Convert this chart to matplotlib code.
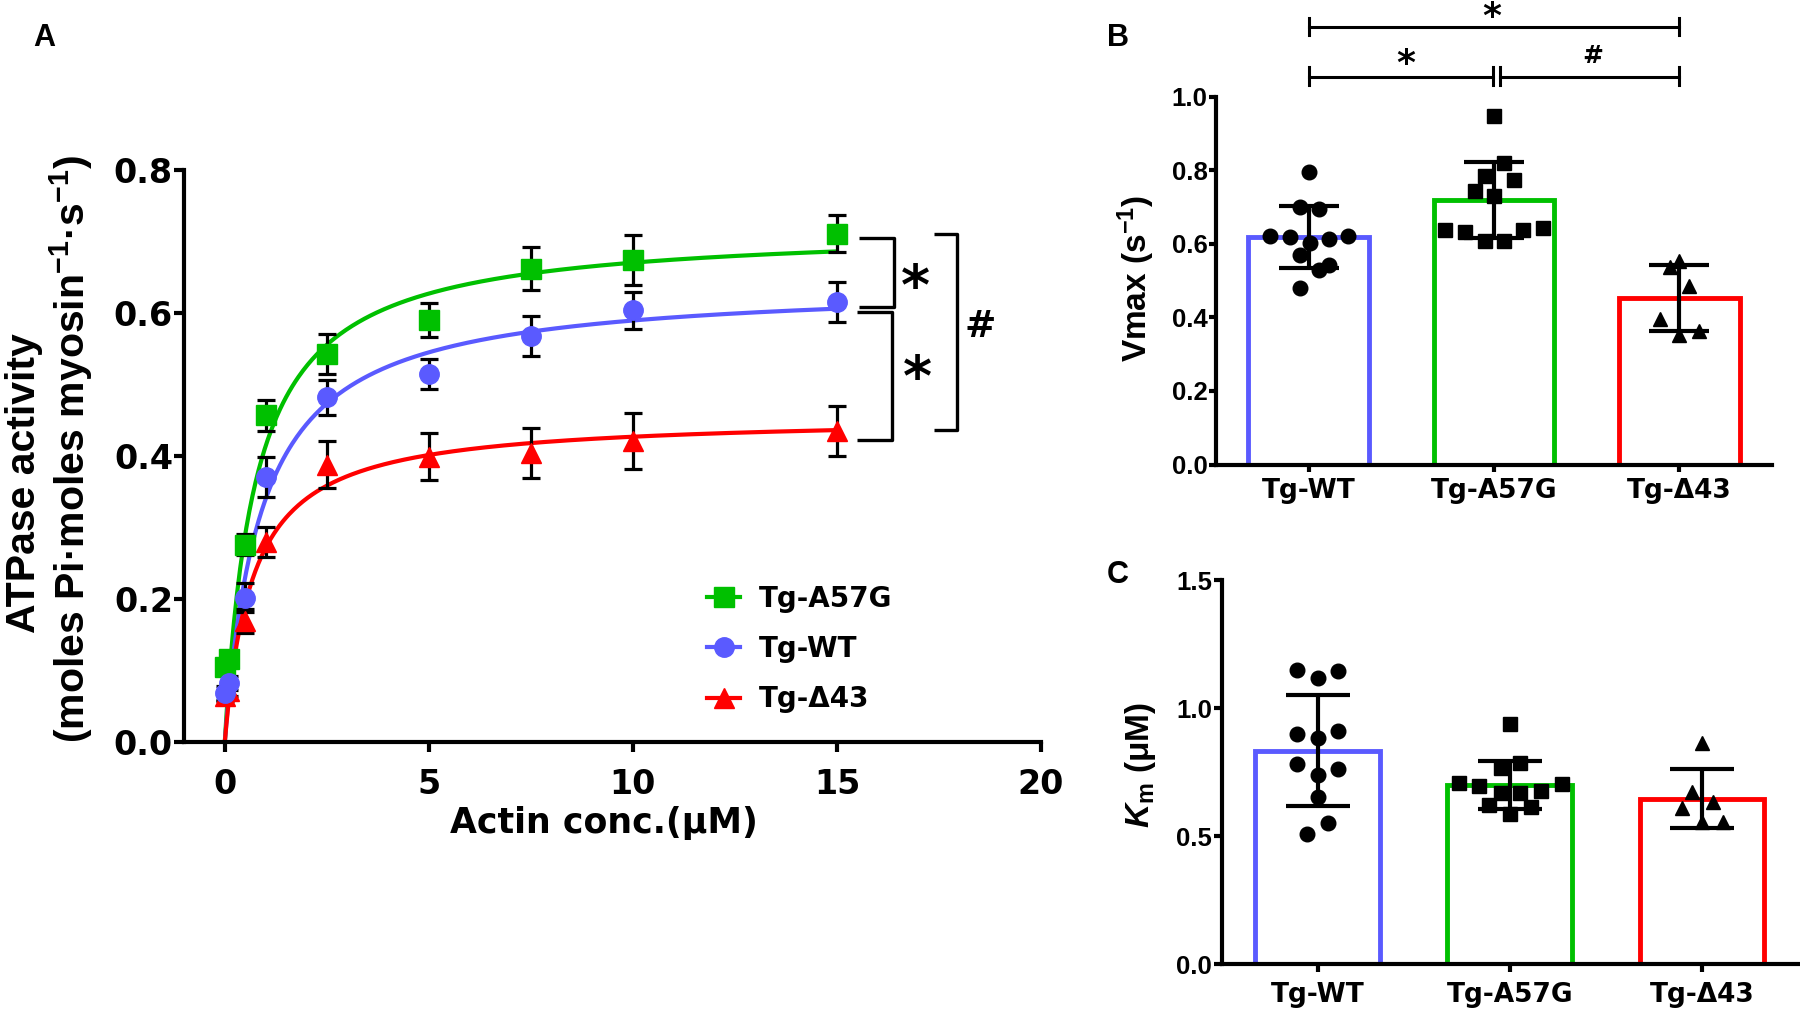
import numpy as np
import matplotlib
matplotlib.use('Agg')
import matplotlib.pyplot as plt
from matplotlib.lines import Line2D

# ---- panel A: actin-activated ATPase ----
conc = [0, 0.1, 0.5, 1, 2.5, 5, 7.5, 10, 15]
a57g_mean = [0.105, 0.116, 0.276, 0.457, 0.543, 0.590, 0.662, 0.674, 0.711]
a57g_sd = [0.010, 0.010, 0.015, 0.022, 0.028, 0.024, 0.030, 0.035, 0.026]
wt_mean = [0.069, 0.083, 0.202, 0.371, 0.482, 0.515, 0.568, 0.604, 0.615]
wt_sd = [0.010, 0.010, 0.020, 0.028, 0.024, 0.021, 0.028, 0.026, 0.028]
d43_mean = [0.065, 0.072, 0.169, 0.280, 0.388, 0.399, 0.404, 0.421, 0.435]
d43_sd = [0.008, 0.008, 0.017, 0.021, 0.033, 0.033, 0.035, 0.039, 0.035]

# Michaelis-Menten fit parameters (A57G, WT, d43)
vmax_fit = [0.720, 0.642, 0.456]
km_fit = [0.74, 0.89, 0.68]

# ---- panels B and C ----
groups = ['Tg-WT', 'Tg-A57G', 'Tg-Δ43']
vmax_mean = [0.618, 0.718, 0.452]
vmax_sd = [0.085, 0.103, 0.089]
vmax_wt = [0.796, 0.700, 0.694, 0.622, 0.617, 0.602, 0.613, 0.620, 0.570, 0.543, 0.529, 0.480]
vmax_wt_dx = [0.0, -0.045, 0.056, -0.207, -0.10, 0.007, 0.108, 0.213, -0.045, 0.112, 0.056, -0.045]
vmax_a57g = [0.946, 0.819, 0.785, 0.772, 0.742, 0.729, 0.638, 0.633, 0.638, 0.644, 0.606, 0.606]
vmax_a57g_dx = [0.0, 0.056, -0.049, 0.106, -0.10, 0.0, -0.263, -0.157, 0.157, 0.265, -0.049, 0.052]
vmax_d43 = [0.538, 0.552, 0.486, 0.395, 0.353, 0.362]
vmax_d43_dx = [-0.052, 0.0, 0.052, -0.106, 0.0, 0.106]

km_mean = [0.834, 0.699, 0.647]
km_sd = [0.218, 0.094, 0.116]
km_wt = [1.149, 1.145, 1.116, 0.899, 0.912, 0.882, 0.782, 0.761, 0.739, 0.652, 0.553, 0.509]
km_wt_dx = [-0.108, 0.108, 0.0, -0.108, 0.108, 0.0, -0.108, 0.108, 0.0, 0.0, 0.054, -0.054]
km_a57g = [0.937, 0.784, 0.765, 0.706, 0.696, 0.704, 0.678, 0.667, 0.667, 0.622, 0.615, 0.587]
km_a57g_dx = [0.0, 0.054, -0.048, -0.264, -0.162, 0.27, 0.162, 0.054, -0.048, -0.108, 0.108, 0.0]
km_d43 = [0.865, 0.674, 0.635, 0.609, 0.557, 0.557]
km_d43_dx = [0.0, -0.052, 0.056, -0.102, 0.0, 0.108]

GREEN = '#00c000'
BLUE = '#5a5aff'
RED = '#ff0000'

plt.rcParams['font.family'] = ['Liberation Sans', 'DejaVu Sans']
plt.rcParams['font.weight'] = 'bold'
plt.rcParams['mathtext.fontset'] = 'custom'
plt.rcParams['mathtext.rm'] = 'Liberation Sans:bold'
plt.rcParams['mathtext.bf'] = 'Liberation Sans:bold'
plt.rcParams['mathtext.it'] = 'Liberation Sans:italic:bold'

W, H = 1800, 1010
fig = plt.figure(figsize=(W / 100, H / 100), dpi=100)


def fx(px):
    return px / W


def fy(py):
    return 1 - py / H


def style_axes(ax, tick_len, label_font, label_size, pad):
    for s in ['top', 'right']:
        ax.spines[s].set_visible(False)
    for s in ['left', 'bottom']:
        ax.spines[s].set_linewidth(3)
    ax.tick_params(width=3, length=tick_len, direction='out')
    for lab in ax.get_xticklabels() + ax.get_yticklabels():
        lab.set_family(label_font)
        lab.set_fontweight('bold')
        lab.set_fontsize(label_size)
    ax.tick_params(axis='y', pad=pad[0])
    ax.tick_params(axis='x', pad=pad[1])


# ---------------- A ----------------
axA = fig.add_axes([fx(184), fy(742), fx(1041 - 184), (742 - 170) / H])
series = [(a57g_mean, a57g_sd, GREEN, 's', 0), (wt_mean, wt_sd, BLUE, 'o', 1), (d43_mean, d43_sd, RED, '^', 2)]
xs = np.linspace(0, 15, 400)
for mean, sd, col, mk, i in series:
    axA.plot(xs, vmax_fit[i] * xs / (km_fit[i] + xs), color=col, lw=3, zorder=2)
for mean, sd, col, mk, i in series:
    axA.errorbar(conc, mean, yerr=sd, fmt='none', ecolor='black', elinewidth=2.3,
                 capsize=6.5, capthick=2.3, zorder=3)
for mean, sd, col, mk, i in [series[2], series[0], series[1]]:
    axA.plot(conc, mean, ls='none', marker=mk, color=col, ms=14, zorder=4)

axA.set_xlim(-1, 20)
axA.set_ylim(0, 0.8)
axA.set_xticks([0, 5, 10, 15, 20])
axA.set_yticks([0, 0.2, 0.4, 0.6, 0.8])
axA.set_yticklabels(['0.0', '0.2', '0.4', '0.6', '0.8'])
style_axes(axA, 7, 'DejaVu Sans', 24, (1, 12))

# significance brackets
bk = dict(color='black', lw=2.4, clip_on=False, solid_capstyle='butt')
axA.plot([15.55, 16.41, 16.41, 15.55], [0.7045, 0.7045, 0.609, 0.609], **bk)
axA.plot([15.5, 16.36, 16.36, 15.5], [0.602, 0.602, 0.422, 0.422], **bk)
axA.plot([17.37, 17.94, 17.94, 17.37], [0.711, 0.711, 0.436, 0.436], **bk)
axA.text(16.93, 0.634, '*', fontsize=40, family='DejaVu Sans', weight='bold', ha='center', va='center')
axA.text(16.96, 0.506, '*', fontsize=40, family='DejaVu Sans', weight='bold', ha='center', va='center')
axA.text(18.5, 0.580, '#', fontsize=27, family='DejaVu Sans', weight='bold', ha='center', va='center')

handles = [Line2D([], [], color=GREEN, marker='s', ms=14, lw=3),
           Line2D([], [], color=BLUE, marker='o', ms=14, lw=3),
           Line2D([], [], color=RED, marker='^', ms=14, lw=3)]
axA.legend(handles, ['Tg-A57G', 'Tg-WT', 'Tg-Δ43'], loc='center left',
           bbox_to_anchor=(fx(707), fy(649)), bbox_transform=fig.transFigure,
           frameon=False, prop=dict(family='DejaVu Sans', weight='bold', size=20),
           handlelength=1.2, handletextpad=0.65, labelspacing=0.8,
           borderpad=0, borderaxespad=0)

fig.text(fx(24), fy(483), 'ATPase activity', rotation=90, fontsize=29.5,
         ha='center', va='center')
fig.text(fx(71), fy(449), '(moles Pi·moles myosin$^{-1}$·s$^{-1}$)', rotation=90,
         fontsize=29.5, ha='center', va='center')
fig.text(fx(604), fy(823), 'Actin conc.(μM)', fontsize=25, family='DejaVu Sans',
         weight='bold', ha='center', va='center')


# ---------------- B and C ----------------
def bar_panel(ax, means, sds, pts, cap):
    x = np.arange(3)
    ax.bar(x, means, width=0.65, color='white', edgecolor=[BLUE, GREEN, RED],
           linewidth=3.5, zorder=1)
    ax.errorbar(x, means, yerr=sds, fmt='none', ecolor='black', elinewidth=3,
                capsize=cap, capthick=3, zorder=3)
    for i, (vals, dx, mk) in enumerate(pts):
        ax.plot(np.array(dx) + i, vals, ls='none', marker=mk, color='black',
                ms=10.5, zorder=4, clip_on=False)
    ax.set_xlim(-0.5, 2.5)
    ax.set_xticks(x)
    ax.set_xticklabels(groups)


axB = fig.add_axes([fx(1216), fy(464.5), fx(1772 - 1216), (464.5 - 96.5) / H])
bar_panel(axB, vmax_mean, vmax_sd,
          [(vmax_wt, vmax_wt_dx, 'o'), (vmax_a57g, vmax_a57g_dx, 's'), (vmax_d43, vmax_d43_dx, '^')], 21.6)
axB.set_ylim(0, 1.0)
axB.set_yticks([0, 0.2, 0.4, 0.6, 0.8, 1.0])
axB.set_yticklabels(['0.0', '0.2', '0.4', '0.6', '0.8', '1.0'])
style_axes(axB, 5, 'Liberation Sans', 18.5, (1, 5))
for lab in axB.get_xticklabels():
    lab.set_family('DejaVu Sans')
    lab.set_fontsize(19)

sg = dict(color='black', lw=2.2, clip_on=False)
axB.plot([0, 2], [1.19, 1.19], **sg)
axB.plot([0, 0], [1.167, 1.213], **sg)
axB.plot([2, 2], [1.167, 1.213], **sg)
axB.plot([0, 0.995], [1.054, 1.054], **sg)
axB.plot([1.03, 2], [1.054, 1.054], **sg)
for xv in [0, 0.995, 1.03, 2]:
    axB.plot([xv, xv], [1.03, 1.08], **sg)
axB.text(0.99, 1.215, '*', fontsize=26, family='DejaVu Sans', weight='bold', ha='center', va='center')
axB.text(0.524, 1.088, '*', fontsize=26, family='DejaVu Sans', weight='bold', ha='center', va='center')
axB.text(1.535, 1.109, '#', fontsize=18, family='DejaVu Sans', weight='bold', ha='center', va='center')

axC = fig.add_axes([fx(1221.7), fy(964.3), fx(1798 - 1221.7), (964.3 - 580) / H])
bar_panel(axC, km_mean, km_sd,
          [(km_wt, km_wt_dx, 'o'), (km_a57g, km_a57g_dx, 's'), (km_d43, km_d43_dx, '^')], 23)
axC.set_ylim(0, 1.5)
axC.set_yticks([0, 0.5, 1.0, 1.5])
axC.set_yticklabels(['0.0', '0.5', '1.0', '1.5'])
style_axes(axC, 6, 'Liberation Sans', 18.5, (1, 7))
for lab in axC.get_xticklabels():
    lab.set_family('DejaVu Sans')
    lab.set_fontsize(19)

fig.text(fx(1136), fy(278), 'Vmax (s$^{-1}$)', rotation=90, fontsize=24, ha='center', va='center')
fig.text(fx(1140), fy(765), '$K_{\\mathrm{m}}$ (μM)', rotation=90, fontsize=24, ha='center', va='center')

fig.text(fx(44), fy(38), 'A', fontsize=22, ha='center', va='center')
fig.text(fx(1118), fy(38), 'B', fontsize=22, ha='center', va='center')
fig.text(fx(1118), fy(575), 'C', fontsize=22, ha='center', va='center')

fig.savefig('out.png', dpi=100)
